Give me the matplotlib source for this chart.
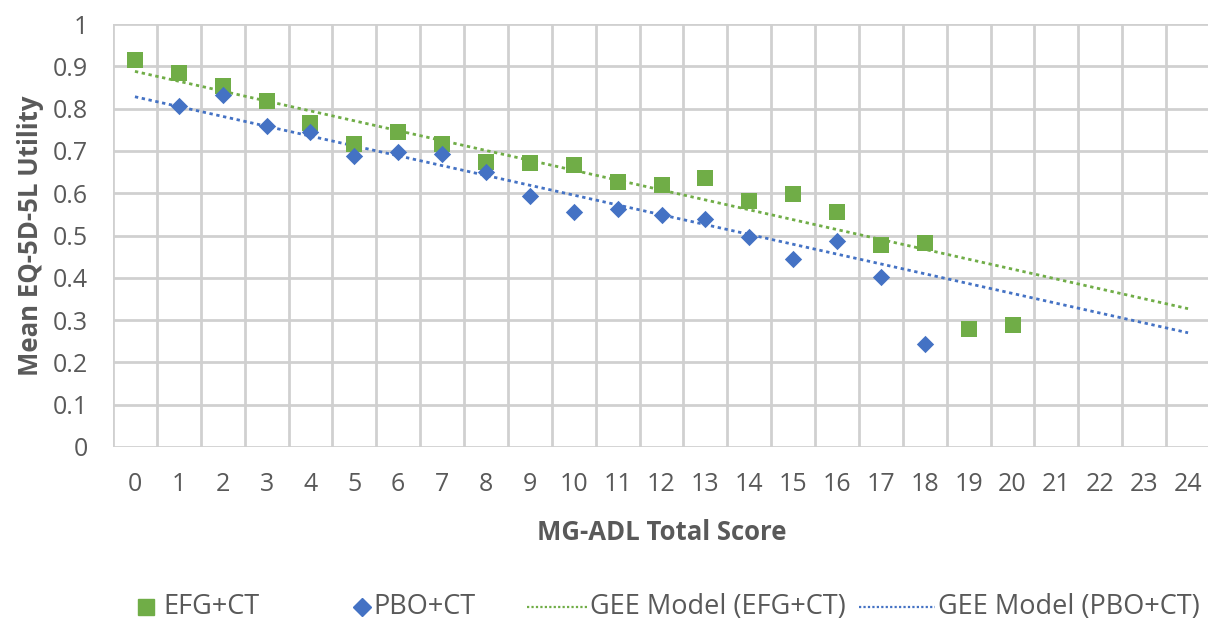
import matplotlib
matplotlib.use("Agg")
import matplotlib.pyplot as plt

plt.rcParams['font.family'] = ['Open Sans', 'DejaVu Sans']

# Data
efg_x = list(range(0, 21))
efg_y = [0.915, 0.884, 0.853, 0.818, 0.766, 0.716, 0.745, 0.716, 0.674, 0.671,
         0.667, 0.627, 0.619, 0.636, 0.582, 0.597, 0.555, 0.477, 0.483, 0.278, 0.288]
pbo_x = list(range(1, 19))
pbo_y = [0.805, 0.832, 0.760, 0.745, 0.687, 0.697, 0.692, 0.649, 0.594, 0.556,
         0.563, 0.549, 0.539, 0.497, 0.445, 0.486, 0.403, 0.244]
gee_x = [0, 24]
gee_efg = [0.888, 0.327]
gee_pbo = [0.828, 0.270]
x_ticks = list(range(0, 25))
y_ticks = [0, 0.1, 0.2, 0.3, 0.4, 0.5, 0.6, 0.7, 0.8, 0.9, 1]
y_tick_labels = ["0", "0.1", "0.2", "0.3", "0.4", "0.5", "0.6", "0.7", "0.8", "0.9", "1"]
labels = ["EFG+CT", "PBO+CT", "GEE Model (EFG+CT)", "GEE Model (PBO+CT)"]

GREEN = "#70AD47"
BLUE = "#4472C4"
GRID = "#D0D0D0"
TEXT = "#595959"

W, H = 1208, 626
fig = plt.figure(figsize=(W / 100, H / 100), dpi=100)
left, right, top, bottom = 113, 1210, 24, 447
ax = fig.add_axes([left / W, 1 - bottom / H, (right - left) / W, (bottom - top) / H])

ax.set_xlim(-0.5, 24.5)
ax.set_ylim(0, 1)

for xv in [i - 0.5 for i in range(0, 26)]:
    ax.axvline(xv, color=GRID, lw=2, zorder=0)
for yv in y_ticks:
    ax.axhline(yv, color=GRID, lw=2, zorder=0)

DOT = (0, (1.2, 1.3))
ax.plot(gee_x, gee_efg, color=GREEN, lw=2, linestyle=DOT, zorder=2)
ax.plot(gee_x, gee_pbo, color=BLUE, lw=2, linestyle=DOT, zorder=2)
ax.scatter(efg_x, efg_y, marker='s', s=135, color=GREEN, zorder=3, linewidths=0)
ax.scatter(pbo_x, pbo_y, marker='D', s=78, color=BLUE, zorder=4, linewidths=0)

for s in ax.spines.values():
    s.set_visible(False)
ax.set_xticks(x_ticks)
ax.set_xticklabels([str(v) for v in x_ticks])
ax.set_yticks(y_ticks)
ax.set_yticklabels(y_tick_labels)
ax.tick_params(axis='both', length=0, labelsize=18, colors=TEXT)
ax.tick_params(axis='x', pad=18)
ax.tick_params(axis='y', pad=18)

ax.set_xlabel("MG-ADL Total Score", fontsize=18.5, fontweight='bold', color=TEXT, labelpad=16)
ax.set_ylabel("Mean EQ-5D-5L Utility", fontsize=18.5, fontweight='bold', color=TEXT, labelpad=6)

# Manual legend in pixel coordinates
lg = fig.add_axes([0, 0, 1, 1], zorder=-1)
lg.set_xlim(0, W)
lg.set_ylim(H, 0)
lg.axis('off')
ly = 607
LFS = 19.5
lg.plot([146], [ly], marker='s', color=GREEN, markersize=12, linestyle='None')
lg.text(163, ly, labels[0], fontsize=LFS, color=TEXT, va='center', ha='left')
lg.plot([362], [ly], marker='D', color=BLUE, markersize=9.5, linestyle='None')
lg.text(373, ly, labels[1], fontsize=LFS, color=TEXT, va='center', ha='left')
lg.plot([527, 588], [ly, ly], color=GREEN, lw=1.6, linestyle=(0, (1, 1)))
lg.text(590, ly, labels[2], fontsize=LFS, color=TEXT, va='center', ha='left')
lg.plot([859, 935], [ly, ly], color=BLUE, lw=1.6, linestyle=(0, (1, 1)))
lg.text(938, ly, labels[3], fontsize=LFS, color=TEXT, va='center', ha='left')

fig.savefig("out.png", dpi=100)
